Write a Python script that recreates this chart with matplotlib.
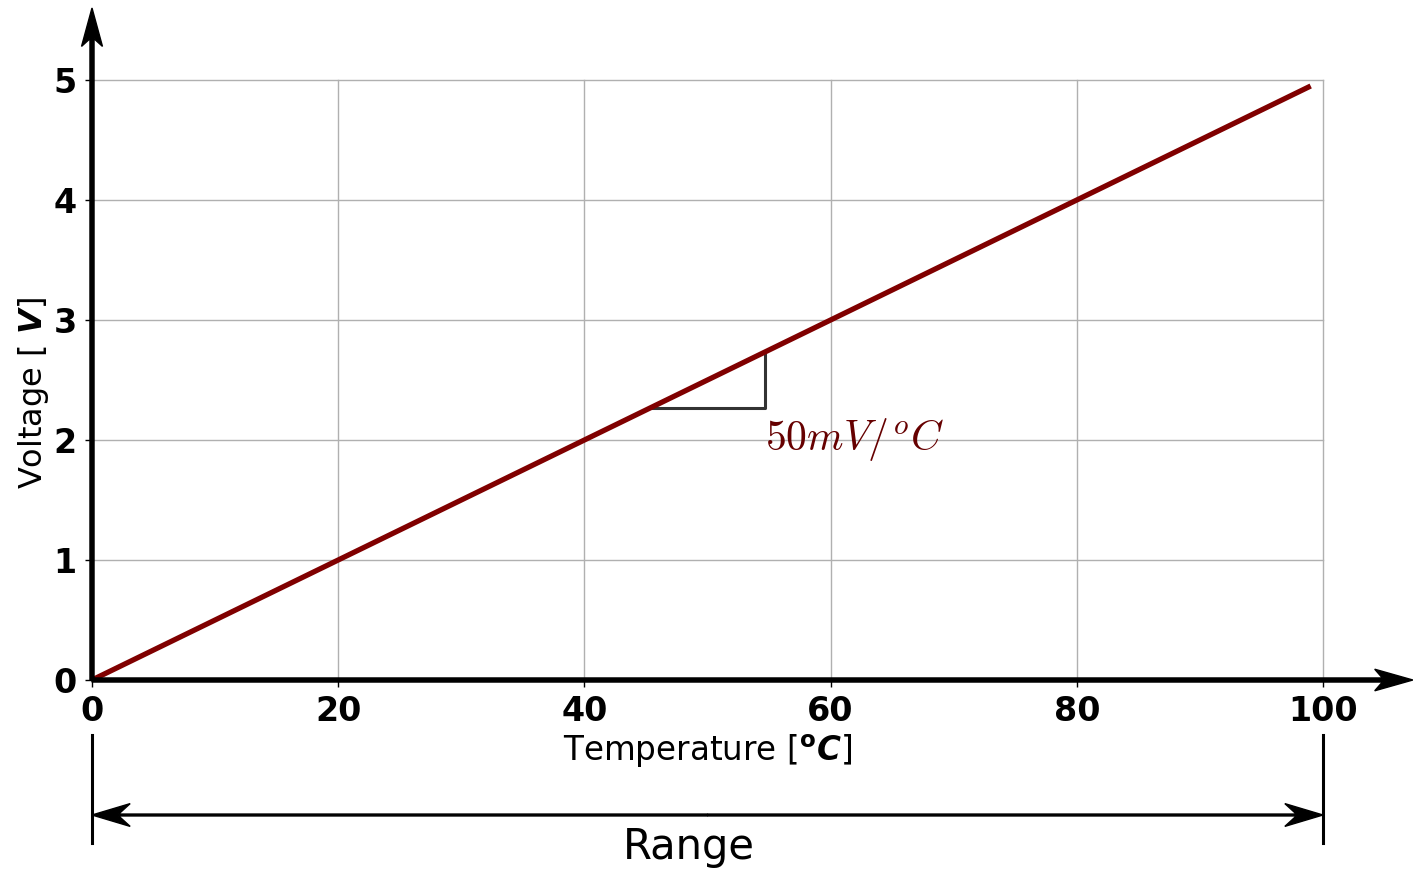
import matplotlib
matplotlib.use("Agg")
import matplotlib.pyplot as plt

# Data
temperature = [0, 99]
voltage = [0, 4.95]
slope_x = [45.4, 54.7, 54.7]
slope_y = [2.27, 2.27, 2.735]
xticks = [0, 20, 40, 60, 80, 100]
yticks = [0, 1, 2, 3, 4, 5]

fig = plt.figure(figsize=(14.13, 8.69), dpi=100)
ax = fig.add_axes([92/1413, 1-680/869, (1323-92)/1413, 600/869])
ax.set_xlim(0, 100)
ax.set_ylim(0, 5)
for s in ax.spines.values():
    s.set_visible(False)

ax.grid(True, color='#b0b0b0', linewidth=1.0)
ax.set_axisbelow(True)
ax.set_xticks(xticks)
ax.set_yticks(yticks)
ax.tick_params(axis='both', labelsize=24, length=5, width=1, pad=6)
for lab in ax.get_xticklabels() + ax.get_yticklabels():
    lab.set_fontweight('bold')
for gl in ax.get_xgridlines() + ax.get_ygridlines():
    gl.set_clip_on(False)

# axes arrows
ax.arrow(0, 0, 107.3 - 3.1, 0, width=0.034, head_width=0.18, head_length=3.1,
         overhang=0.2, color='black', clip_on=False, length_includes_head=False, zorder=5)
ax.arrow(0, 0, 0, 5.6 - 0.32, width=0.33, head_width=1.7, head_length=0.32,
         overhang=0.2, color='black', clip_on=False, length_includes_head=False, zorder=5)

ax.plot(temperature, voltage, color='#800000', linewidth=3.8, zorder=4, solid_capstyle='butt')
ax.plot(slope_x, slope_y, color='#333333', linewidth=2.2, zorder=3)
ax.text(54.7, 1.92, r'$50mV/^oC$', color='#660000', fontsize=30,
        math_fontfamily='cm', ha='left', va='baseline')

ax.set_xlabel(r'Temperature [$\mathbf{^o}\boldsymbol{C}$]', fontsize=23.5, labelpad=3)
ax.set_ylabel(r'Voltage [ $\boldsymbol{V}$]', fontsize=23)
ax.yaxis.set_label_coords(-0.033, 0.478)

# Range annotation
for xv in [0, 100]:
    ax.plot([xv, xv], [-0.458, -1.358], color='black', linewidth=2.2, clip_on=False)
ax.arrow(50, -1.125, 50 - 3.1, 0, width=0.016, head_width=0.19, head_length=3.1,
         overhang=0.3, color='black', clip_on=False, zorder=5)
ax.arrow(50, -1.125, -50 + 3.1, 0, width=0.016, head_width=0.19, head_length=3.1,
         overhang=0.3, color='black', clip_on=False, zorder=5)
ax.text(48.5, -1.49, 'Range', fontsize=30, ha='center', va='baseline')

fig.savefig('out.png', dpi=100)
